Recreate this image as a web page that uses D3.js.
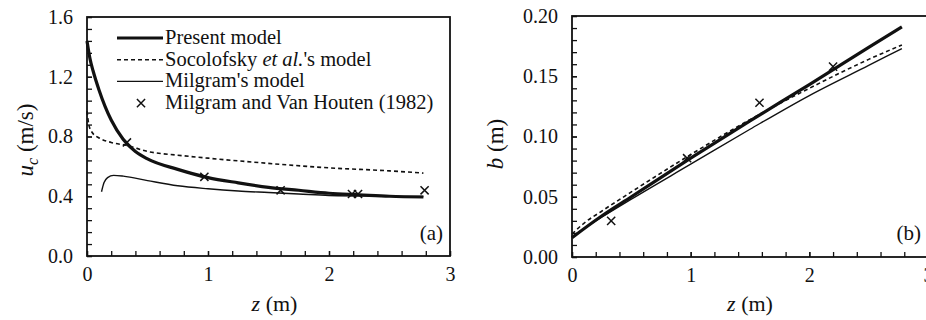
<!DOCTYPE html>
<html>
<head>
<meta charset="utf-8">
<script src="https://cdn.jsdelivr.net/npm/d3@7"></script>
<style>
  body { margin: 0; background: #fff; }
  svg { display: block; font-family: "Liberation Serif", "Times New Roman", serif; }
</style>
</head>
<body>
<svg id="chart" width="926" height="320"></svg>
<script>
// panel (a): centreline velocity u_c (m/s) vs z (m)
const presentA = [[0, 1.44], [0.025, 1.32], [0.05, 1.24], [0.1, 1.11], [0.15, 1.0], [0.2, 0.91], [0.3, 0.78],
  [0.4, 0.70], [0.5, 0.65], [0.75, 0.58], [1, 0.525], [1.25, 0.49], [1.5, 0.46], [1.75, 0.44], [2, 0.42],
  [2.25, 0.41], [2.5, 0.40], [2.78, 0.395]];
const socolofskyA = [[0, 0.97], [0.015, 0.88], [0.04, 0.83], [0.1, 0.79], [0.2, 0.76], [0.33, 0.74], [0.5, 0.70],
  [0.75, 0.675], [1, 0.655], [1.5, 0.62], [2, 0.59], [2.5, 0.57], [2.78, 0.555]];
const milgramA = [[0.12, 0.43], [0.14, 0.49], [0.17, 0.525], [0.22, 0.54], [0.3, 0.535], [0.5, 0.505], [0.75, 0.47],
  [1, 0.45], [1.25, 0.435], [1.5, 0.425], [1.75, 0.415], [2, 0.405], [2.5, 0.40], [2.78, 0.398]];
const measuredA = [[0.33, 0.76], [0.97, 0.53], [1.6, 0.44], [2.19, 0.415], [2.24, 0.415], [2.79, 0.44]];

// panel (b): plume width b (m) vs z (m)
const presentB = [[0, 0.016], [0.25, 0.034], [0.5, 0.050], [1, 0.082], [1.5, 0.113], [2, 0.143], [2.5, 0.174], [2.78, 0.191]];
const socolofskyB = [[0, 0.019], [0.1, 0.028], [0.25, 0.038], [0.5, 0.054], [1, 0.085], [1.5, 0.114], [2, 0.140], [2.5, 0.164], [2.78, 0.176]];
const milgramB = [[0, 0.017], [0.25, 0.033], [0.5, 0.048], [1, 0.077], [1.5, 0.106], [2, 0.134], [2.5, 0.159], [2.78, 0.173]];
const measuredB = [[0.33, 0.030], [0.97, 0.082], [1.58, 0.128], [2.2, 0.158]];

const xTicks = [0, 1, 2, 3];
const yTicksA = [0, 0.4, 0.8, 1.2, 1.6];
const yTicksB = [0, 0.05, 0.10, 0.15, 0.20];
const legendLabels = ['Present model', "Socolofsky et al.'s model", "Milgram's model", 'Milgram and Van Houten (1982)'];

const ink = '#111';
const serif = '"Liberation Serif", "Times New Roman", serif';
const svg = d3.select('#chart');

function styleAxis(a) {
  a.select('.domain').remove();
  a.attr('font-family', serif).attr('font-size', 20);
  a.selectAll('.tick text').attr('fill', ink).attr('font-family', serif);
  a.selectAll('.tick line').attr('stroke', ink).attr('stroke-width', 1.3);
}

function drawPanel(opt) {
  const x = d3.scaleLinear().domain([0, 3]).range([opt.left, opt.right]);
  const y = d3.scaleLinear().domain(opt.yDomain).range([opt.bottom, opt.top]);
  const g = svg.append('g');

  // minor ticks (5 per major)
  const xMinor = d3.range(0, 3.0001, 0.2);
  const yStep = (opt.yDomain[1] - opt.yDomain[0]) / 20;
  const yMinor = d3.range(0, 21).map(i => i * yStep);

  g.append('g').attr('transform', `translate(0,${opt.bottom})`)
    .call(d3.axisBottom(x).tickValues(xMinor).tickFormat('').tickSizeInner(-5).tickSizeOuter(0))
    .call(styleAxis);
  g.append('g').attr('transform', `translate(${opt.left},0)`)
    .call(d3.axisLeft(y).tickValues(yMinor).tickFormat('').tickSizeInner(-5).tickSizeOuter(0))
    .call(styleAxis);

  // labelled ticks
  g.append('g').attr('transform', `translate(0,${opt.bottom})`)
    .call(d3.axisBottom(x).tickValues(xTicks).tickFormat(d3.format('d')).tickSizeInner(-5).tickSizeOuter(0).tickPadding(11))
    .call(styleAxis);
  g.append('g').attr('transform', `translate(${opt.left},0)`)
    .call(d3.axisLeft(y).tickValues(opt.yTicks).tickFormat(d3.format(opt.yFmt)).tickSizeInner(-5).tickSizeOuter(0).tickPadding(14))
    .call(styleAxis);

  // frame
  g.append('rect')
    .attr('x', opt.left).attr('y', opt.top)
    .attr('width', opt.right - opt.left).attr('height', opt.bottom - opt.top)
    .attr('fill', 'none').attr('stroke', ink).attr('stroke-width', 1.8);

  const line = d3.line().x(d => x(d[0])).y(d => y(d[1])).curve(d3.curveMonotoneX);
  g.append('path').datum(opt.socolofsky).attr('d', line)
    .attr('fill', 'none').attr('stroke', ink).attr('stroke-width', 1.6).attr('stroke-dasharray', '4,3');
  g.append('path').datum(opt.milgram).attr('d', line)
    .attr('fill', 'none').attr('stroke', ink).attr('stroke-width', 1.4);
  g.append('path').datum(opt.present).attr('d', line)
    .attr('fill', 'none').attr('stroke', ink).attr('stroke-width', 3.2);

  g.selectAll('path.cross').data(opt.measured).join('path')
    .attr('class', 'cross')
    .attr('d', d3.symbol().type(d3.symbolX).size(45))
    .attr('transform', d => `translate(${x(d[0])},${y(d[1])})`)
    .attr('fill', 'none').attr('stroke', ink).attr('stroke-width', 1.5);

  // axis titles
  const xt = g.append('text')
    .attr('x', (opt.left + opt.right) / 2 + opt.xTitleShift).attr('y', 311)
    .attr('text-anchor', 'middle').attr('font-size', 22).attr('fill', ink);
  xt.append('tspan').attr('font-style', 'italic').text('z');
  xt.append('tspan').text(' (m)');

  const yt = g.append('text')
    .attr('transform', `translate(${opt.yTitleX},${opt.yTitleY}) rotate(-90)`)
    .attr('text-anchor', 'middle').attr('font-size', 23).attr('fill', ink);
  opt.yTitle(yt);

  g.append('text')
    .attr('x', opt.tagX).attr('y', 240)
    .attr('text-anchor', 'end').attr('font-size', 21).attr('fill', ink)
    .text(opt.tag);

  return { x, y, g };
}

drawPanel({
  left: 87, right: 450, top: 17, bottom: 256,
  yDomain: [0, 1.6], yTicks: yTicksA, yFmt: '.1f',
  present: presentA, socolofsky: socolofskyA, milgram: milgramA, measured: measuredA,
  xTitleShift: 6, yTitleX: 33, yTitleY: 140, tagX: 443, tag: '(a)',
  yTitle: t => {
    t.append('tspan').attr('font-style', 'italic').text('u');
    t.append('tspan').attr('font-style', 'italic').attr('font-size', 16).attr('dy', 5).text('c');
    t.append('tspan').attr('dy', -5).text(' (m/s)');
  }
});

drawPanel({
  left: 572, right: 928, top: 16, bottom: 257,
  yDomain: [0, 0.2], yTicks: yTicksB, yFmt: '.2f',
  present: presentB, socolofsky: socolofskyB, milgram: milgramB, measured: measuredB,
  xTitleShift: 0, yTitleX: 503, yTitleY: 144, tagX: 921, tag: '(b)',
  yTitle: t => {
    t.append('tspan').attr('font-style', 'italic').text('b');
    t.append('tspan').text(' (m)');
  }
});

// legend in panel (a)
const legend = svg.append('g').attr('transform', 'translate(117,38)');
const rowGap = 21.7;
legendLabels.forEach((label, i) => {
  const row = legend.append('g').attr('transform', `translate(0,${i * rowGap})`);
  if (i < 3) {
    row.append('line').attr('x1', 0).attr('x2', 46).attr('y1', 0).attr('y2', 0)
      .attr('stroke', ink)
      .attr('stroke-width', i === 0 ? 3.2 : i === 1 ? 1.6 : 1.4)
      .attr('stroke-dasharray', i === 1 ? '4,3' : null);
  } else {
    row.append('path').attr('d', d3.symbol().type(d3.symbolX).size(45))
      .attr('transform', 'translate(24,0)')
      .attr('fill', 'none').attr('stroke', ink).attr('stroke-width', 1.5);
  }
  const t = row.append('text').attr('x', 48).attr('y', 6).attr('font-size', 20.5).attr('fill', ink);
  if (i === 1) {
    t.append('tspan').text('Socolofsky ');
    t.append('tspan').attr('font-style', 'italic').text('et al.');
    t.append('tspan').text("'s model");
  } else {
    t.text(label);
  }
});
</script>
</body>
</html>
